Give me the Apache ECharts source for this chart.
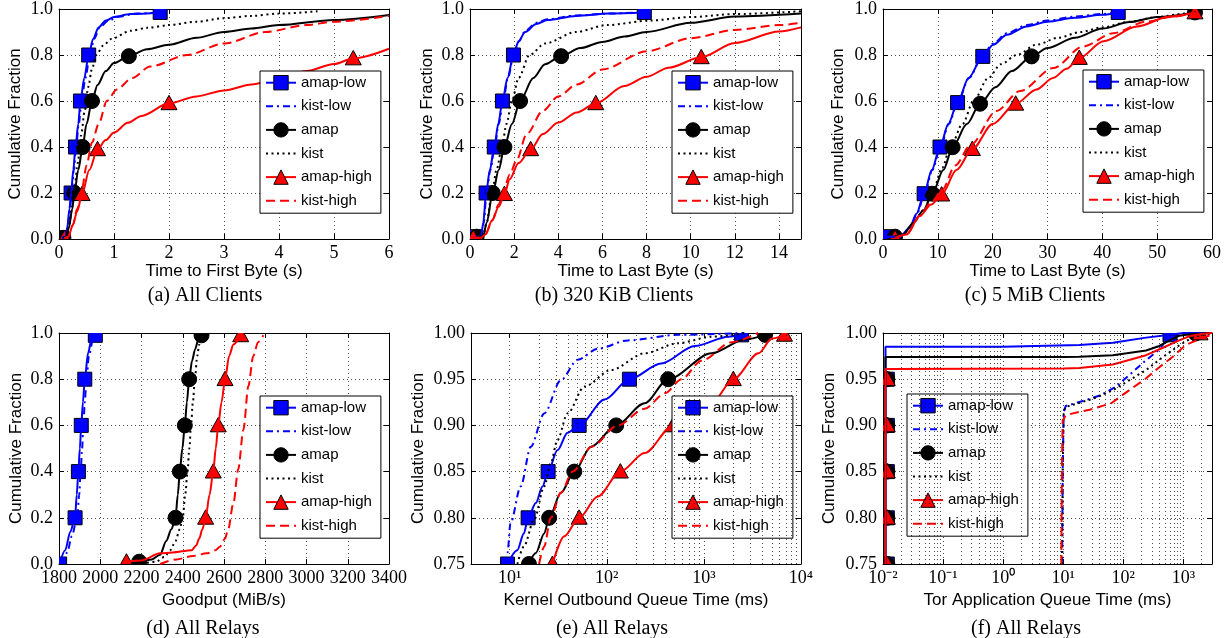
<!DOCTYPE html>
<html>
<head>
<meta charset="utf-8">
<script src="https://cdn.jsdelivr.net/npm/echarts@6/dist/echarts.min.js"></script>
<style>
  html, body { margin: 0; padding: 0; background: #fff; }
  #chart { width: 1229px; height: 638px; }
</style>
</head>
<body>
<div id="chart"></div>
<script>
// series names, same in every panel
const names = ['amap-low', 'kist-low', 'amap', 'kist', 'amap-high', 'kist-high'];

// (a) time to first byte, all clients
const aAmapLow  = [[0.05,0.005],[0.12,0.01],[0.15,0.05],[0.19,0.13],[0.22,0.2],[0.26,0.3],[0.30,0.4],[0.35,0.5],[0.39,0.6],[0.46,0.7],[0.54,0.8],[0.62,0.87],[0.72,0.92],[0.85,0.95],[1.0,0.965],[1.3,0.978],[1.84,0.985]];
const aKistLow  = [[0.06,0.005],[0.13,0.01],[0.16,0.05],[0.2,0.13],[0.23,0.2],[0.27,0.3],[0.31,0.4],[0.36,0.5],[0.41,0.6],[0.48,0.7],[0.56,0.8],[0.64,0.87],[0.74,0.92],[0.9,0.95],[1.1,0.967],[1.4,0.98],[1.9,0.987]];
const aAmap     = [[0.08,0.005],[0.13,0.01],[0.18,0.05],[0.24,0.13],[0.28,0.2],[0.35,0.3],[0.43,0.4],[0.5,0.5],[0.6,0.6],[0.7,0.67],[0.85,0.73],[1.0,0.765],[1.27,0.795],[1.6,0.825],[2,0.845],[2.5,0.875],[3,0.9],[3.5,0.915],[4,0.93],[5,0.952],[6,0.974]];
const aKist     = [[0.08,0.005],[0.13,0.01],[0.18,0.05],[0.24,0.14],[0.28,0.22],[0.34,0.33],[0.4,0.45],[0.47,0.56],[0.53,0.66],[0.6,0.74],[0.68,0.8],[0.8,0.84],[0.95,0.87],[1.3,0.905],[1.6,0.918],[2,0.93],[2.5,0.945],[3,0.96],[3.5,0.97],[4,0.98],[4.7,0.99]];
const aAmapHigh = [[0.1,0.003],[0.17,0.01],[0.25,0.06],[0.33,0.12],[0.42,0.195],[0.55,0.3],[0.7,0.39],[0.85,0.43],[1.0,0.463],[1.25,0.505],[1.5,0.535],[2.0,0.59],[2.5,0.62],[3,0.646],[3.5,0.672],[4,0.698],[4.5,0.73],[5,0.761],[5.35,0.785],[6,0.827]];
const aKistHigh = [[0.1,0.003],[0.17,0.01],[0.25,0.06],[0.33,0.13],[0.42,0.22],[0.5,0.32],[0.6,0.42],[0.72,0.5],[0.87,0.6],[1.05,0.65],[1.33,0.7],[1.66,0.75],[2.33,0.8],[3,0.85],[3.75,0.9],[4.5,0.93],[5,0.945],[6,0.97]];
const aAmapLowMk  = [[0.05,0.005],[0.22,0.2],[0.30,0.4],[0.39,0.6],[0.54,0.8],[1.84,0.985]];
const aAmapMk     = [[0.08,0.005],[0.28,0.2],[0.43,0.4],[0.6,0.6],[1.27,0.795]];
const aAmapHighMk = [[0.1,0.003],[0.42,0.195],[0.7,0.39],[2.0,0.59],[5.35,0.785]];

// (b) time to last byte, 320 KiB clients
const bAmapLow  = [[0.23,0.01],[0.5,0.012],[0.6,0.07],[0.73,0.2],[0.9,0.3],[1.1,0.4],[1.28,0.5],[1.47,0.6],[1.7,0.7],[1.97,0.8],[2.2,0.86],[2.5,0.9],[3.0,0.935],[3.5,0.952],[4.8,0.97],[6.3,0.98],[7.9,0.985]];
const bKistLow  = [[0.23,0.01],[0.52,0.012],[0.62,0.07],[0.75,0.2],[0.92,0.3],[1.12,0.4],[1.3,0.5],[1.5,0.6],[1.72,0.7],[1.98,0.8],[2.22,0.86],[2.5,0.905],[3.0,0.94],[3.5,0.955],[4.8,0.972],[6.3,0.98],[8,0.987]];
const bAmap     = [[0.3,0.01],[0.6,0.012],[0.75,0.07],[1.03,0.2],[1.3,0.3],[1.56,0.4],[1.9,0.5],[2.27,0.6],[2.87,0.7],[3.4,0.76],[4.13,0.795],[5,0.83],[6,0.857],[7,0.88],[8,0.9],[10,0.94],[12,0.967],[15,0.98]];
const bKist     = [[0.3,0.01],[0.6,0.012],[0.75,0.07],[1.0,0.2],[1.2,0.3],[1.45,0.4],[1.65,0.5],[1.9,0.6],[2.2,0.7],[2.7,0.8],[3.4,0.85],[4.8,0.9],[6.2,0.93],[8.2,0.95],[10,0.965],[12,0.978],[15,0.99]];
const bAmapHigh = [[0.15,0.005],[0.5,0.005],[0.7,0.02],[1.0,0.08],[1.3,0.14],[1.56,0.195],[1.8,0.26],[2.2,0.33],[2.75,0.39],[3.3,0.456],[4,0.506],[4.84,0.55],[5.7,0.59],[7,0.665],[8,0.705],[9,0.745],[10.48,0.79],[12,0.852],[14,0.902],[15,0.92]];
const bKistHigh = [[0.15,0.005],[0.5,0.005],[0.7,0.02],[1.0,0.08],[1.3,0.15],[1.55,0.22],[1.8,0.28],[2.1,0.34],[2.57,0.456],[3.3,0.557],[4,0.62],[4.84,0.672],[6,0.737],[8,0.816],[10,0.873],[12,0.909],[14,0.93],[15,0.94]];
const bAmapLowMk  = [[0.23,0.01],[0.73,0.2],[1.1,0.4],[1.47,0.6],[1.97,0.8],[7.9,0.985]];
const bAmapMk     = [[0.3,0.01],[1.03,0.2],[1.56,0.4],[2.27,0.6],[4.13,0.795]];
const bAmapHighMk = [[0.15,0.005],[1.56,0.195],[2.75,0.39],[5.7,0.59],[10.48,0.79]];

// (c) time to last byte, 5 MiB clients
const cAmapLow  = [[0.7,0.01],[3.1,0.01],[4.9,0.05],[6.1,0.11],[7.5,0.197],[8.9,0.3],[10.4,0.4],[11.9,0.5],[13.6,0.593],[15.6,0.7],[18.2,0.794],[20.1,0.845],[22.6,0.888],[26.2,0.924],[30,0.945],[35,0.962],[40,0.975],[42.9,0.985]];
const cKistLow  = [[0.7,0.01],[3.2,0.01],[5.0,0.05],[6.2,0.11],[7.6,0.197],[9.0,0.3],[10.5,0.4],[12.0,0.5],[13.7,0.6],[15.7,0.7],[18.2,0.8],[20.1,0.85],[22.6,0.895],[26.2,0.93],[30,0.95],[35,0.967],[40,0.978],[43,0.987]];
const cAmap     = [[2.2,0.01],[3.7,0.02],[5.5,0.07],[7.4,0.125],[9.0,0.197],[11.0,0.3],[12.7,0.399],[15.3,0.5],[17.7,0.588],[20.5,0.66],[23.5,0.73],[27.1,0.794],[30,0.83],[35,0.875],[40,0.915],[45,0.943],[50,0.965],[56.9,0.985]];
const cKist     = [[2.2,0.01],[3.7,0.02],[5.5,0.07],[7.4,0.125],[9,0.2],[10.8,0.31],[12.3,0.4],[14.5,0.5],[16.5,0.6],[19.2,0.7],[21.5,0.76],[24.4,0.8],[28,0.845],[32,0.875],[36,0.9],[40,0.92],[45,0.945],[50,0.965],[55,0.98],[57,0.987]];
const cAmapHigh = [[2.2,0.005],[4.3,0.02],[6.7,0.1],[8.8,0.15],[10.7,0.193],[13.4,0.3],[16.3,0.391],[20,0.5],[24.2,0.588],[28,0.65],[31,0.7],[33.5,0.74],[35.8,0.787],[40.2,0.86],[46.3,0.924],[52.3,0.967],[56.9,0.985]];
const cKistHigh = [[2.2,0.005],[4.3,0.02],[6.7,0.1],[8.8,0.16],[10.7,0.21],[13.2,0.32],[16,0.41],[20.7,0.557],[25,0.643],[31.1,0.744],[36.5,0.837],[42,0.895],[48,0.945],[53,0.967],[57,0.985]];
const cAmapLowMk  = [[0.7,0.01],[7.5,0.197],[10.4,0.4],[13.6,0.593],[18.2,0.794],[42.9,0.985]];
const cAmapMk     = [[2.2,0.01],[9.0,0.197],[12.7,0.399],[17.7,0.588],[27.1,0.794],[56.9,0.985]];
const cAmapHighMk = [[2.2,0.005],[10.7,0.193],[16.3,0.391],[24.2,0.588],[35.8,0.787],[56.9,0.985]];

// (d) goodput, all relays
const dAmapLow  = [[1803,0],[1830,0.06],[1855,0.14],[1878,0.2],[1886,0.3],[1894,0.4],[1901,0.5],[1908,0.6],[1916,0.7],[1925,0.8],[1941,0.913],[1957,0.97],[1976,0.99]];
const dKistLow  = [[1815,0],[1840,0.05],[1862,0.12],[1888,0.2],[1898,0.3],[1905,0.4],[1912,0.5],[1918,0.6],[1925,0.7],[1933,0.8],[1945,0.9],[1962,0.96],[1975,0.99]];
const dAmap     = [[2150,0],[2189,0.01],[2250,0.02],[2290,0.04],[2320,0.1],[2345,0.15],[2365,0.2],[2376,0.3],[2386,0.4],[2398,0.5],[2410,0.6],[2420,0.7],[2431,0.8],[2445,0.88],[2460,0.93],[2475,0.97],[2491,0.99]];
const dKist     = [[2200,0],[2270,0.01],[2310,0.03],[2340,0.06],[2365,0.1],[2385,0.15],[2400,0.2],[2412,0.3],[2423,0.4],[2432,0.5],[2440,0.6],[2449,0.7],[2459,0.8],[2470,0.9],[2480,0.95],[2491,0.99]];
const dAmapHigh = [[2127,0.01],[2200,0.015],[2290,0.046],[2350,0.05],[2443,0.06],[2465,0.08],[2480,0.11],[2495,0.15],[2511,0.2],[2530,0.3],[2548,0.4],[2560,0.5],[2572,0.6],[2588,0.7],[2605,0.8],[2625,0.9],[2645,0.95],[2681,0.99]];
const dKistHigh = [[2290,0],[2370,0.02],[2450,0.035],[2516,0.046],[2560,0.06],[2580,0.075],[2605,0.11],[2620,0.15],[2645,0.26],[2669,0.41],[2694,0.58],[2718,0.77],[2742,0.9],[2765,0.96],[2791,0.99]];
const dAmapLowMk  = [[1803,0],[1878,0.2],[1894,0.4],[1908,0.6],[1925,0.8],[1976,0.99]];
const dAmapMk     = [[2189,0.01],[2365,0.2],[2386,0.4],[2410,0.6],[2431,0.8],[2491,0.99]];
const dAmapHighMk = [[2127,0.01],[2511,0.2],[2548,0.4],[2572,0.6],[2605,0.8],[2681,0.99]];

// (e) kernel outbound queue time (ms), log x
const eAmapLow  = [[9.5,0.75],[12,0.765],[14,0.783],[15.5,0.8],[18.6,0.816],[21.8,0.834],[24.9,0.85],[31,0.873],[39.5,0.892],[52,0.9],[95,0.928],[171,0.95],[363,0.967],[807,0.986],[1780,0.996],[2450,0.998]];
const eKistLow  = [[9.1,0.75],[9.5,0.762],[10.2,0.794],[13,0.834],[16.5,0.877],[22.7,0.913],[33.7,0.949],[50,0.971],[81,0.983],[165,0.992],[540,0.998],[2600,1.0]];
const eAmap     = [[15.8,0.75],[18.6,0.762],[22.7,0.783],[25.5,0.8],[33.7,0.827],[46.3,0.85],[68.8,0.877],[125,0.9],[245,0.924],[428,0.95],[1200,0.978],[2630,0.993],[4270,0.998]];
const eKist     = [[12,0.75],[14,0.769],[17.9,0.798],[22.7,0.834],[26.5,0.859],[31,0.884],[39.5,0.913],[58.7,0.942],[111,0.96],[245,0.978],[542,0.989],[1200,0.996],[2700,1.0]];
const eAmapHigh = [[27.6,0.75],[36.5,0.78],[52,0.8],[80.7,0.823],[138,0.85],[245,0.87],[482,0.9],[1200,0.924],[2010,0.95],[3650,0.978],[5010,0.994],[6760,0.998]];
const eKistHigh = [[20.1,0.75],[22.7,0.769],[26.5,0.8],[33.7,0.827],[44.5,0.85],[70,0.877],[130,0.9],[245,0.918],[400,0.935],[587,0.95],[946,0.97],[1930,0.99],[3630,1.0]];
const eAmapLowMk  = [[9.5,0.75],[15.5,0.8],[24.9,0.85],[52,0.9],[171,0.95],[2450,0.998]];
const eAmapMk     = [[15.8,0.75],[25.5,0.8],[46.3,0.85],[125,0.9],[428,0.95],[4270,0.998]];
const eAmapHighMk = [[27.6,0.75],[52,0.8],[138,0.85],[482,0.9],[2010,0.95],[6760,0.998]];

// (f) tor application queue time (ms), log x
const fAmapLow  = [[0.011,0.75],[0.011,0.985],[1,0.985],[18.6,0.987],[67,0.9895],[240,0.995],[600,0.998],[1000,1.0],[3000,1.0]];
const fKistLow  = [[9.6,0.75],[9.8,0.85],[10.2,0.915],[11,0.921],[23,0.927],[43,0.933],[76,0.942],[126,0.9545],[224,0.969],[398,0.982],[590,0.997],[1000,1.0],[3000,1.0]];
const fAmap     = [[0.011,0.75],[0.011,0.974],[10,0.974],[18.6,0.9744],[67,0.976],[240,0.981],[398,0.986],[590,0.992],[850,0.997],[1400,0.999],[3000,1.0]];
const fKist     = [[9.6,0.75],[9.8,0.85],[10.2,0.915],[11,0.92],[20,0.925],[32,0.929],[67,0.938],[240,0.96],[457,0.974],[850,0.9865],[1440,0.9955],[3000,1.0]];
const fAmapHigh = [[0.011,0.75],[0.011,0.961],[10,0.9615],[18.6,0.962],[67,0.966],[240,0.976],[457,0.984],[850,0.992],[1260,0.9965],[2000,0.999],[3000,1.0]];
const fKistHigh = [[9.3,0.75],[9.5,0.85],[9.8,0.905],[11,0.911],[14.5,0.913],[27.5,0.917],[63,0.924],[98,0.933],[240,0.951],[398,0.963],[660,0.974],[1100,0.987],[2090,0.995],[3000,0.998]];
const fAmapLowMk  = [[0.0118,0.75],[0.0118,0.8],[0.0118,0.85],[0.0118,0.9],[0.0118,0.95],[600,0.998]];
const fAmapMk     = [[0.0118,0.75],[0.0118,0.8],[0.0118,0.85],[0.0118,0.9],[0.0118,0.95],[1600,0.9995]];
const fAmapHighMk = [[0.0118,0.75],[0.0118,0.8],[0.0118,0.85],[0.0118,0.9],[0.0118,0.95],[1900,0.9995]];

// log axis tick labels
const eDecades = [10, 100, 1000, 10000];
const eDecadeLabels = ['10¹', '10²', '10³', '10⁴'];
const fDecades = [0.01, 0.1, 1, 10, 100, 1000];
const fDecadeLabels = ['10⁻²', '10⁻¹', '10⁰', '10¹', '10²', '10³'];

const captions = ['(a) All Clients', '(b) 320 KiB Clients', '(c) 5 MiB Clients', '(d) All Relays', '(e) All Relays', '(f) All Relays'];
const xNames = ['Time to First Byte (s)', 'Time to Last Byte (s)', 'Time to Last Byte (s)', 'Goodput (MiB/s)', 'Kernel Outbound Queue Time (ms)', 'Tor Application Queue Time (ms)'];

const SERIF = '"Liberation Serif", "Times New Roman", serif';
const SANS = '"Liberation Sans", Arial, sans-serif';

const look = {
  'amap-low':  { color: '#0000ff', type: 'solid', symbol: 'rect', size: 14 },
  'kist-low':  { color: '#0000ff', type: [7, 4, 2, 4] },
  'amap':      { color: '#000000', type: 'solid', symbol: 'circle', size: 15 },
  'kist':      { color: '#000000', type: [2, 3.5] },
  'amap-high': { color: '#ff0000', type: 'solid', symbol: 'triangle', size: 16 },
  'kist-high': { color: '#ff0000', type: [9, 5] }
};

function minorOf(decades, max) {
  const out = [];
  decades.forEach(d => [2, 3, 4, 5, 6, 7, 8, 9].forEach(m => { if (m * d < max) out.push(m * d); }));
  return out;
}

function logFormatter(decades, labels) {
  return function (v) {
    for (let i = 0; i < decades.length; i++) {
      if (Math.abs(Math.log10(v) - Math.log10(decades[i])) < 1e-6) return labels[i];
    }
    return '';
  };
}

// marker drawn as a shape so that the grid clip cuts it at the frame, like the original
function markerRenderer(symbol, size, color) {
  return function (params, api) {
    const p = api.coord([api.value(0), api.value(1)]);
    const h = size / 2;
    const style = { fill: color, stroke: '#000', lineWidth: 1 };
    if (symbol === 'rect') {
      return { type: 'rect', shape: { x: p[0] - h, y: p[1] - h, width: size, height: size }, style };
    }
    if (symbol === 'circle') {
      return { type: 'circle', shape: { cx: p[0], cy: p[1], r: h }, style };
    }
    return { type: 'polygon', shape: { points: [[p[0], p[1] - h], [p[0] - h, p[1] + h * 0.8], [p[0] + h, p[1] + h * 0.8]] }, style };
  };
}

const panels = [
  { box: [59, 8, 330, 231], x: [0, 6, 1], y: [0, 1, 0.2, 1], xGap: 23, yGap: 35, cap: [205, 296], legend: [260, 71],
    lines: [aAmapLow, aKistLow, aAmap, aKist, aAmapHigh, aKistHigh], marks: [aAmapLowMk, null, aAmapMk, null, aAmapHighMk, null] },
  { box: [470, 8, 331, 231], x: [0, 15, 2], y: [0, 1, 0.2, 1], xGap: 23, yGap: 34, cap: [614, 296], legend: [672, 71], hideMax: true,
    lines: [bAmapLow, bKistLow, bAmap, bKist, bAmapHigh, bKistHigh], marks: [bAmapLowMk, null, bAmapMk, null, bAmapHighMk, null] },
  { box: [883, 8, 329, 231], x: [0, 60, 10], y: [0, 1, 0.2, 1], xGap: 23, yGap: 36, cap: [1035, 296], legend: [1083, 70],
    lines: [cAmapLow, cKistLow, cAmap, cKist, cAmapHigh, cKistHigh], marks: [cAmapLowMk, null, cAmapMk, null, cAmapHighMk, null] },
  { box: [59, 333, 330, 231], x: [1800, 3400, 200], y: [0, 1, 0.2, 1], xGap: 28, yGap: 34, cap: [203, 629], legend: [260, 396],
    lines: [dAmapLow, dKistLow, dAmap, dKist, dAmapHigh, dKistHigh], marks: [dAmapLowMk, null, dAmapMk, null, dAmapHighMk, null] },
  { box: [471, 333, 330, 231], x: [4, 10000], log: true, decades: eDecades, labels: eDecadeLabels, y: [0.75, 1, 0.05, 2], xGap: 28, yGap: 44, cap: [612, 629], legend: [672, 396],
    lines: [eAmapLow, eKistLow, eAmap, eKist, eAmapHigh, eKistHigh], marks: [eAmapLowMk, null, eAmapMk, null, eAmapHighMk, null] },
  { box: [883, 333, 329, 231], x: [0.01, 3000], log: true, decades: fDecades, labels: fDecadeLabels, y: [0.75, 1, 0.05, 2], xGap: 28, yGap: 45, cap: [1026, 629], legend: [907, 394], straight: true,
    lines: [fAmapLow, fKistLow, fAmap, fKist, fAmapHigh, fKistHigh], marks: [fAmapLowMk, null, fAmapMk, null, fAmapHighMk, null] }
];

const axisLine = { show: true, onZero: false, lineStyle: { color: '#000', width: 1 } };
const axisTick = { show: true, inside: true, length: 5, lineStyle: { color: '#000', width: 1 } };
const gridLine = { show: true, lineStyle: { color: '#000', width: 0.7, type: [1, 3] } };

const option = { animation: false, backgroundColor: '#fff', grid: [], xAxis: [], yAxis: [], series: [], legend: [], graphic: [] };

panels.forEach((p, i) => {
  option.grid.push({ left: p.box[0], top: p.box[1], width: p.box[2], height: p.box[3], show: false });

  const xBase = p.log
    ? { type: 'log', logBase: 10, min: p.x[0], max: p.x[1] }
    : { type: 'value', min: p.x[0], max: p.x[1], interval: p.x[2] };
  option.xAxis.push(Object.assign({}, xBase, {
    gridIndex: i, position: 'bottom',
    name: xNames[i], nameLocation: 'middle', nameGap: p.xGap,
    nameTextStyle: { fontFamily: SANS, fontSize: 17, color: '#000' },
    axisLine, axisTick, splitLine: gridLine,
    axisLabel: {
      color: '#000', fontFamily: SERIF, fontSize: 18, margin: 5,
      showMaxLabel: !p.hideMax,
      formatter: p.log ? logFormatter(p.decades, p.labels) : (v => String(v))
    }
  }));
  option.xAxis.push(Object.assign({}, xBase, {
    gridIndex: i, position: 'top', axisLine, axisTick,
    axisLabel: { show: false }, splitLine: { show: false }
  }));

  const yBase = { type: 'value', min: p.y[0], max: p.y[1], interval: p.y[2] };
  option.yAxis.push(Object.assign({}, yBase, {
    gridIndex: i, position: 'left',
    name: 'Cumulative Fraction', nameLocation: 'middle', nameGap: p.yGap,
    nameTextStyle: { fontFamily: SANS, fontSize: 17, color: '#000' },
    axisLine, axisTick, splitLine: gridLine,
    axisLabel: { color: '#000', fontFamily: SERIF, fontSize: 18, margin: 6, formatter: v => v.toFixed(p.y[3]) }
  }));
  option.yAxis.push(Object.assign({}, yBase, {
    gridIndex: i, position: 'right', axisLine, axisTick,
    axisLabel: { show: false }, splitLine: { show: false }
  }));

  names.forEach((n, k) => {
    const s = look[n];
    const line = {
      type: 'line', name: n, xAxisIndex: 2 * i, yAxisIndex: 2 * i,
      data: p.lines[k], showSymbol: false,
      symbol: s.symbol || 'none', symbolSize: s.size || 0,
      smooth: p.straight ? false : 0.3, smoothMonotone: 'x',
      lineStyle: { color: s.color, width: 2, type: s.type },
      itemStyle: { color: s.color, borderColor: '#000', borderWidth: 1 },
      emphasis: { disabled: true }
    };
    if (p.log && k === 0) {
      line.markLine = {
        silent: true, symbol: ['none', 'none'], label: { show: false },
        lineStyle: { color: '#000', width: 0.7, type: [1, 3] },
        emphasis: { disabled: true },
        data: minorOf(p.decades, p.x[1]).filter(v => v > p.x[0]).map(v => ({ xAxis: v }))
      };
    }
    option.series.push(line);
    if (p.marks[k]) {
      option.series.push({
        type: 'custom', name: n, xAxisIndex: 2 * i, yAxisIndex: 2 * i,
        data: p.marks[k], clip: true, silent: true,
        renderItem: markerRenderer(s.symbol, s.size, s.color)
      });
    }
  });

  option.legend.push({
    orient: 'vertical', left: p.legend[0], top: p.legend[1],
    itemWidth: 30, itemHeight: 18, itemGap: 8.4, padding: [4, 9, 5, 5],
    borderColor: '#000', borderWidth: 1, backgroundColor: '#fff', borderRadius: 0,
    selectedMode: false,
    textStyle: { fontFamily: SANS, fontSize: 15, color: '#000' },
    lineStyle: { width: 2 },
    data: names.map(n => n.indexOf('kist') === 0
      ? { name: n, itemStyle: { color: 'rgba(0,0,0,0)', borderColor: 'rgba(0,0,0,0)', borderWidth: 0 } }
      : { name: n, itemStyle: { borderColor: '#000', borderWidth: 1 } })
  });

  option.graphic.push({
    type: 'text', x: p.cap[0], y: p.cap[1],
    style: { text: captions[i], font: '20px ' + SERIF, fill: '#000',
      textAlign: 'center', textVerticalAlign: 'middle', align: 'center', verticalAlign: 'middle' }
  });
});

const chart = echarts.init(document.getElementById('chart'), null, { renderer: 'canvas' });
chart.setOption(option);
window.addEventListener('resize', chart.resize);
</script>
</body>
</html>
